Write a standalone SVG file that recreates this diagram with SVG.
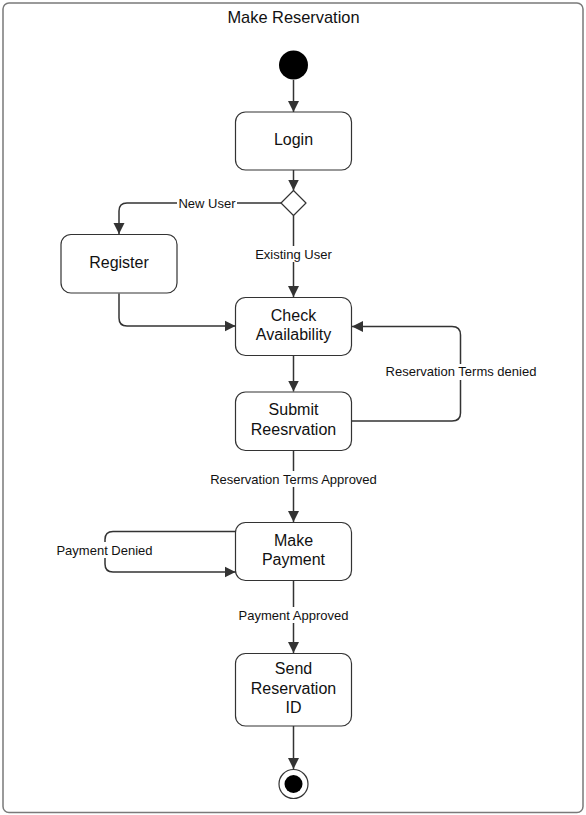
<svg xmlns="http://www.w3.org/2000/svg" width="586" height="815" viewBox="0 0 586 815">
<defs>
<style>
.frame{fill:#fff;stroke:#7a7a7a;stroke-width:1.5}
.box{fill:#fff;stroke:#333;stroke-width:1.2}
.t{font-family:"Liberation Sans",Arial,sans-serif;font-size:16px;fill:#111;text-anchor:middle}
.lbl{font-family:"Liberation Sans",Arial,sans-serif;font-size:13px;fill:#111;text-anchor:middle}
.ln{fill:none;stroke:#333;stroke-width:1.5;marker-end:url(#ah)}
.ln2{fill:none;stroke:#333;stroke-width:1.5}
.bg{fill:#fff}
</style>
<marker id="ah" markerUnits="userSpaceOnUse" markerWidth="12" markerHeight="12" viewBox="0 0 12 12" refX="11" refY="6" orient="auto">
<path d="M0,0.5 L11,6 L0,11.5 Z" fill="#333"/>
</marker>
</defs>
<rect class="frame" x="3" y="3" width="580" height="809.5" rx="6"/>
<text class="t" x="293.5" y="22.5" style="font-size:16.4px">Make Reservation</text>

<g id="connectors">
<path class="ln" d="M293.5,80 V112"/>
<path class="ln" d="M293.5,170 V190.5"/>
<path class="ln" d="M281,203 H127 Q119,203 119,211 V234"/>
<path class="ln" d="M293.5,215.5 V297"/>
<path class="ln" d="M119,293.5 V318 Q119,326 127,326 H235.5"/>
<path class="ln" d="M293.5,356 V391.5"/>
<path class="ln" d="M352,421 H452 Q460.5,421 460.5,413 V335 Q460.5,326.5 452,326.5 H352"/>
<path class="ln" d="M293.5,450.5 V522"/>
<path class="ln2" d="M235.5,531.5 H113 Q105,531.5 105,539.5 V564 Q105,572 113,572 H235.5" style="marker-end:url(#ah)"/>
<path class="ln" d="M293.5,581 V653"/>
<path class="ln" d="M293.5,726 V769"/>
<rect class="bg" x="177" y="195" width="60" height="16"/>
<text class="lbl" x="207" y="207.5">New User</text>
<rect class="bg" x="251" y="246" width="85" height="16"/>
<text class="lbl" x="293.5" y="258.5">Existing User</text>
<rect class="bg" x="381" y="364" width="160" height="16"/>
<text class="lbl" x="461" y="376">Reservation Terms denied</text>
<rect class="bg" x="206" y="471" width="175" height="16"/>
<text class="lbl" x="293.5" y="483.5">Reservation Terms Approved</text>
<rect class="bg" x="53" y="542" width="103" height="16"/>
<text class="lbl" x="104.5" y="554.5">Payment Denied</text>
<rect class="bg" x="234" y="607" width="119" height="16"/>
<text class="lbl" x="293.5" y="619.5">Payment Approved</text>
</g>

<g id="start"><circle cx="293.5" cy="65" r="14.5" fill="#000"/></g>
<g id="login"><rect class="box" x="235.5" y="112" width="116" height="58" rx="10"/><text class="t" x="293.5" y="145">Login</text></g>
<g id="decision"><path class="box" d="M293.5,190.5 L306,203 L293.5,215.5 L281,203 Z" stroke-linejoin="round"/></g>
<g id="register"><rect class="box" x="61" y="234.5" width="116" height="58.5" rx="10"/><text class="t" x="119" y="267.5">Register</text></g>
<g id="check"><rect class="box" x="235.5" y="297.5" width="116" height="58" rx="10"/><text class="t" x="293.5" y="320.5">Check</text><text class="t" x="293.5" y="340">Availability</text></g>
<g id="submit"><rect class="box" x="235.5" y="392" width="116" height="58.5" rx="10"/><text class="t" x="293.5" y="415">Submit</text><text class="t" x="293.5" y="434.5">Reesrvation</text></g>
<g id="payment"><rect class="box" x="235.5" y="522.5" width="116" height="58" rx="10"/><text class="t" x="293.5" y="545.5">Make</text><text class="t" x="293.5" y="565">Payment</text></g>
<g id="send"><rect class="box" x="235.5" y="653.5" width="116" height="72.5" rx="10"/><text class="t" x="293.5" y="674">Send</text><text class="t" x="293.5" y="693.5">Reservation</text><text class="t" x="293.5" y="713">ID</text></g>
<g id="end"><circle cx="293.5" cy="784" r="14.5" fill="#fff" stroke="#333" stroke-width="1.2"/><circle cx="293.5" cy="784" r="9" fill="#000"/></g>
</svg>
